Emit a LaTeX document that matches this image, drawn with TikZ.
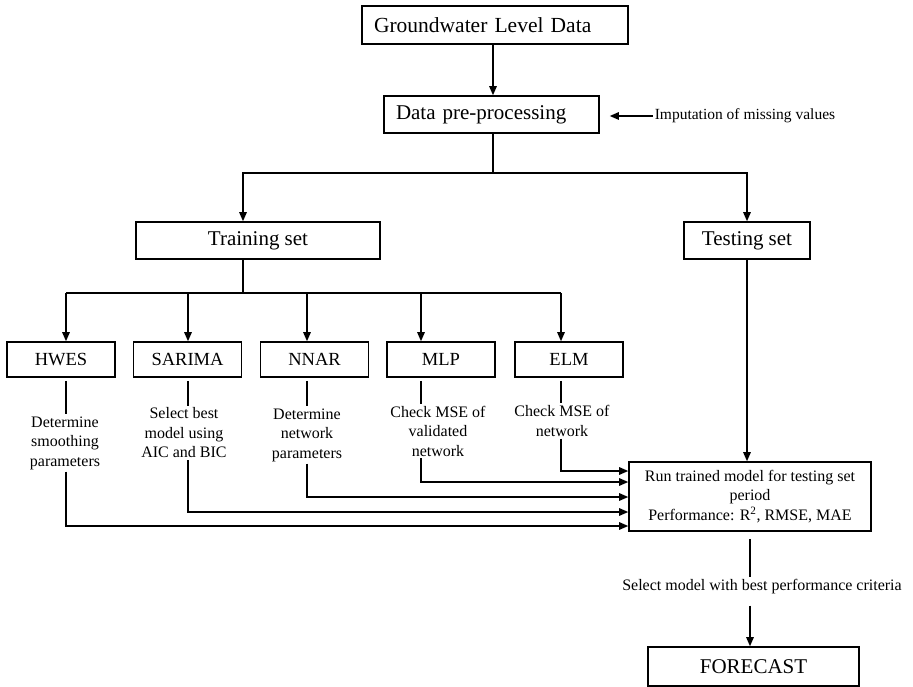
\documentclass[tikz,border=0pt]{standalone}
\usepackage{fontspec}
\setmainfont{Liberation Serif}
\usetikzlibrary{arrows.meta}
\tikzset{%
    main box/.style={draw=black, line width=1.6pt, font=\fontsize{21}{25}\selectfont, inner ysep=0pt},
    model box/.style={draw=black, line width=1.6pt, font=\fontsize{18.5}{22}\selectfont, minimum width=108pt, minimum height=35pt, inner sep=0pt},
    step text/.style={font=\fontsize{16}{19.5}\selectfont, align=center, inner sep=2pt},
    flow/.style={black, line width=1.3pt, -{Triangle[length=9pt, width=7.5pt]}},
    link/.style={black, line width=1.3pt}
}

\begin{document}
\begin{tikzpicture}[x=1pt, y=-1pt]
    \useasboundingbox (0,0) rectangle (913,687);
    \node[main box, text width=242pt, align=left, inner xsep=12pt, minimum height=38pt, font=\fontsize{21.5}{25}\selectfont] (gwl) at (495,25) {Groundwater Level Data};
    \node[main box, text width=191pt, align=left, inner xsep=12pt, minimum height=37pt] (prep) at (491.5,114.5) {Data pre-processing};
    \node[step text, font=\fontsize{15.5}{18}\selectfont] (imput) at (745,116) {Imputation of missing values};
    \node[main box, minimum width=244pt, minimum height=37pt] (train) at (258,240.5) {Training set};
    \node[main box, minimum width=126pt, minimum height=37pt] (test) at (747,240.5) {Testing set};
    \node[model box] (hwes) at (61,359.5) {HWES};
    \node[model box] (sarima) at (187.5,359.5) {SARIMA};
    \node[model box] (nnar) at (314.5,359.5) {NNAR};
    \node[model box] (mlp) at (441,359.5) {MLP};
    \node[model box] (elm) at (569,359.5) {ELM};
    \node[step text] (d-hwes) at (65,443) {Determine\\smoothing\\parameters};
    \node[step text] (d-sarima) at (184,433) {Select best\\model using\\AIC and BIC};
    \node[step text] (d-nnar) at (307,435) {Determine\\network\\parameters};
    \node[step text] (d-mlp) at (438,431) {Check MSE of\\validated\\network};
    \node[step text] (d-elm) at (562,421) {Check MSE of\\network};
    \node[main box, minimum width=242pt, minimum height=69pt, align=center, font=\fontsize{16}{19.5}\selectfont] (run) at (750,496.5) {Run trained model for testing set\\period\\Performance: R\textsuperscript{2}, RMSE, MAE};
    \node[step text] (sel) at (762,587) {Select model with best performance criteria};
    \node[main box, minimum width=211pt, minimum height=39pt] (fc) at (753.5,666.5) {FORECAST};
    \coordinate (split) at (493,173);
    \coordinate (branch) at (243,293);
    \coordinate (c1) at (66,293);
    \coordinate (c2) at (188,293);
    \coordinate (c3) at (307,293);
    \coordinate (c4) at (421,293);
    \coordinate (c5) at (561,293);
    \draw[flow] (gwl.south -| split) -- (prep.north -| split);
    \draw[flow, shorten >=10pt] (imput.west) -- (prep.east |- imput.west);
    \draw[link] (prep.south -| split) -- (split);
    \draw[flow] (split) -| (train.north -| branch);
    \draw[flow] (split) -| (test.north);
    \draw[link] (train.south -| branch) -- (branch);
    \draw[link] (c1) -- (c5);
    \foreach \m/\c in {hwes/c1, sarima/c2, nnar/c3, mlp/c4, elm/c5} {
        \draw[flow] (\c) -- (\m.north -| \c);
        \draw[link, shorten <=3pt] (\m.south -| \c) -- (d-\m.north -| \c);
    }
    \foreach \m/\c/\s in {hwes/c1/-29.5, sarima/c2/-15.5, nnar/c3/-0.5, mlp/c4/14.5, elm/c5/25.5}
        \draw[flow] (d-\m.south -| \c) |- ([yshift=\s pt]run.west);
    \draw[flow] (test.south) -- (test.south |- run.north);
    \draw[link, shorten <=7pt] (run.south) -- (run.south |- sel.north);
    \draw[flow, shorten <=9pt] (run.south |- sel.south) -- (run.south |- fc.north);
\end{tikzpicture}
\end{document}
